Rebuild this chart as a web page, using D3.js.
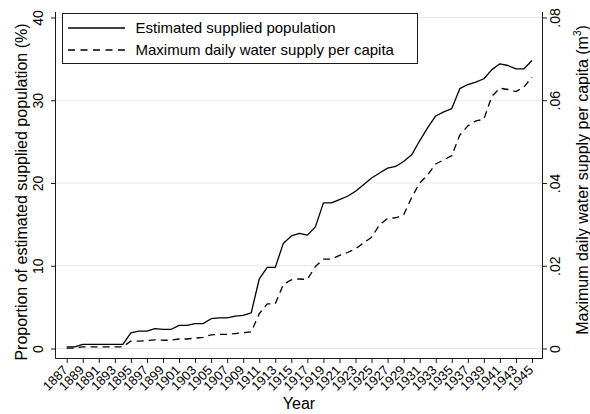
<!DOCTYPE html>
<html>
<head>
<meta charset="utf-8">
<script src="https://cdn.jsdelivr.net/npm/d3@7"></script>
<style>
  body { margin: 0; background: #fff; }
  svg { display: block; font-family: "Liberation Sans", Arial, Helvetica, sans-serif; }
</style>
</head>
<body>
<svg id="chart" width="590" height="414"></svg>
<script>
// Years of observation
const years = [1887, 1888, 1889, 1890, 1891, 1892, 1893, 1894, 1895, 1896,
               1897, 1898, 1899, 1900, 1901, 1902, 1903, 1904, 1905, 1906,
               1907, 1908, 1909, 1910, 1911, 1912, 1913, 1914, 1915, 1916,
               1917, 1918, 1919, 1920, 1921, 1922, 1923, 1924, 1925, 1926,
               1927, 1928, 1929, 1930, 1931, 1932, 1933, 1934, 1935, 1936,
               1937, 1938, 1939, 1940, 1941, 1942, 1943, 1944, 1945];

// Proportion of estimated supplied population (%), left axis
const suppliedPct = [0.2, 0.2, 0.5, 0.5, 0.5, 0.5, 0.5, 0.5, 1.9, 2.1,
                     2.1, 2.4, 2.3, 2.3, 2.8, 2.8, 3.0, 3.0, 3.6, 3.7,
                     3.7, 3.9, 4.0, 4.3, 8.4, 9.8, 9.8, 12.7, 13.6, 13.9,
                     13.7, 14.7, 17.6, 17.6, 18.0, 18.4, 19.0, 19.8, 20.6, 21.2,
                     21.8, 22.0, 22.6, 23.4, 25.1, 26.7, 28.1, 28.6, 29.0, 31.4,
                     31.9, 32.2, 32.6, 33.7, 34.4, 34.2, 33.8, 33.8, 34.8];

// Maximum daily water supply per capita (m3), right axis
const waterPerCapita = [0.0001, 0.0001, 0.0004, 0.0004, 0.0004, 0.0004, 0.0004, 0.0004, 0.0018, 0.0018,
                        0.0019, 0.0021, 0.0020, 0.0020, 0.0023, 0.0023, 0.0025, 0.0027, 0.0033, 0.0034,
                        0.0034, 0.0036, 0.0038, 0.0040, 0.0084, 0.0108, 0.0108, 0.0155, 0.0166, 0.0168,
                        0.0167, 0.0198, 0.0216, 0.0216, 0.0225, 0.0232, 0.0241, 0.0255, 0.0269, 0.0299,
                        0.0314, 0.0316, 0.0323, 0.0365, 0.0400, 0.0420, 0.0446, 0.0456, 0.0466, 0.0516,
                        0.0538, 0.0550, 0.0554, 0.0610, 0.0629, 0.0626, 0.0621, 0.0632, 0.0656];

// Axis ticks
const xTickYears = [1887, 1889, 1891, 1893, 1895, 1897, 1899, 1901, 1903, 1905,
                    1907, 1909, 1911, 1913, 1915, 1917, 1919, 1921, 1923, 1925,
                    1927, 1929, 1931, 1933, 1935, 1937, 1939, 1941, 1943, 1945];
const leftTicks = [0, 10, 20, 30, 40];
const rightTicks = [0, 0.02, 0.04, 0.06, 0.08];
const rightTickLabels = ["0", ".02", ".04", ".06", ".08"];

const legendLabels = ["Estimated supplied population", "Maximum daily water supply per capita"];

const svg = d3.select("#chart");
const frame = { left: 56, right: 542, top: 12, bottom: 358 };
const ink = "#1a1a1a";

const x = d3.scaleLinear().domain([1887, 1945]).range([66.7, 532]);
const yL = d3.scaleLinear().domain([0, 40]).range([348.5, 17.5]);
const yR = d3.scaleLinear().domain([0, 0.08]).range([348.5, 17.5]);

// Horizontal grid lines at the left-axis ticks
svg.append("g")
  .selectAll("line")
  .data(leftTicks)
  .join("line")
  .attr("x1", frame.left).attr("x2", frame.right)
  .attr("y1", d => yL(d)).attr("y2", d => yL(d))
  .attr("stroke", "#e6e6e6").attr("stroke-width", 1);

// Left axis
const gL = svg.append("g").attr("transform", `translate(${frame.left},0)`)
  .call(d3.axisLeft(yL).tickValues(leftTicks).tickSize(5).tickFormat(d3.format("d")));
gL.select(".domain").remove();
gL.selectAll(".tick line").attr("stroke", ink);
gL.selectAll(".tick text")
  .attr("x", null).attr("dy", null)
  .attr("text-anchor", "middle")
  .attr("transform", "translate(-13,0) rotate(-90)")
  .attr("font-size", 14).attr("fill", "#000");

// Right axis
const gR = svg.append("g").attr("transform", `translate(${frame.right},0)`)
  .call(d3.axisRight(yR).tickValues(rightTicks).tickSize(5).tickFormat((d, i) => rightTickLabels[i]));
gR.select(".domain").remove();
gR.selectAll(".tick line").attr("stroke", ink);
gR.selectAll(".tick text")
  .attr("x", null).attr("dy", null)
  .attr("text-anchor", "middle")
  .attr("transform", "translate(18,0) rotate(-90)")
  .attr("font-size", 14).attr("fill", "#000");

// Bottom axis
const gB = svg.append("g").attr("transform", `translate(0,${frame.bottom})`)
  .call(d3.axisBottom(x).tickValues(xTickYears).tickSize(5).tickFormat(d3.format("d")));
gB.select(".domain").remove();
gB.selectAll(".tick line").attr("stroke", ink);
gB.selectAll(".tick text")
  .attr("y", null).attr("dy", null)
  .attr("text-anchor", "end")
  .attr("transform", "translate(1.5,13) rotate(-45)")
  .attr("font-size", 13).attr("fill", "#000");

// Axis lines (left, bottom, right)
const axisLines = svg.append("g").attr("stroke", ink).attr("stroke-width", 1).attr("fill", "none");
axisLines.append("path").attr("d",
  `M${frame.left - 0.5},${frame.top}V${frame.bottom + 0.5}H${frame.right + 0.5}V${frame.top}`);

// Series lines
const solidLine = d3.line().x((d, i) => x(years[i])).y(d => yL(d));
const dashedLine = d3.line().x((d, i) => x(years[i])).y(d => yR(d));

svg.append("path").datum(suppliedPct)
  .attr("d", solidLine)
  .attr("fill", "none").attr("stroke", "#000").attr("stroke-width", 1.3)
  .attr("stroke-linejoin", "round");

svg.append("path").datum(waterPerCapita)
  .attr("d", dashedLine)
  .attr("fill", "none").attr("stroke", "#000").attr("stroke-width", 1.3)
  .attr("stroke-dasharray", "7,5").attr("stroke-linejoin", "round");

// Axis titles
svg.append("text")
  .attr("transform", "translate(27,192) rotate(-90)")
  .attr("text-anchor", "middle").attr("font-size", 16).attr("fill", "#000")
  .text("Proportion of estimated supplied population (%)");

const rt = svg.append("text")
  .attr("transform", "translate(587.5,180) rotate(-90)")
  .attr("text-anchor", "middle").attr("font-size", 16).attr("fill", "#000");
rt.append("tspan").text("Maximum daily water supply per capita (m");
rt.append("tspan").attr("font-size", 10).attr("dy", -7).text("3");
rt.append("tspan").attr("dy", 7).text(")");

svg.append("text")
  .attr("x", 299).attr("y", 409)
  .attr("text-anchor", "middle").attr("font-size", 16).attr("fill", "#000")
  .text("Year");

// Legend
const legend = svg.append("g");
legend.append("rect")
  .attr("x", 62.5).attr("y", 13.5).attr("width", 355).attr("height", 50)
  .attr("fill", "#fff").attr("stroke", ink).attr("stroke-width", 1);

const legendRows = [
  { label: legendLabels[0], dash: null, y: 28 },
  { label: legendLabels[1], dash: "7,5.5", y: 50 }
];
legendRows.forEach(r => {
  legend.append("line")
    .attr("x1", 68).attr("x2", 125).attr("y1", r.y).attr("y2", r.y)
    .attr("stroke", "#000").attr("stroke-width", 1.3)
    .attr("stroke-dasharray", r.dash);
  legend.append("text")
    .attr("x", 135.5).attr("y", r.y + 5.4)
    .attr("font-size", 15).attr("fill", "#000")
    .text(r.label);
});
</script>
</body>
</html>
